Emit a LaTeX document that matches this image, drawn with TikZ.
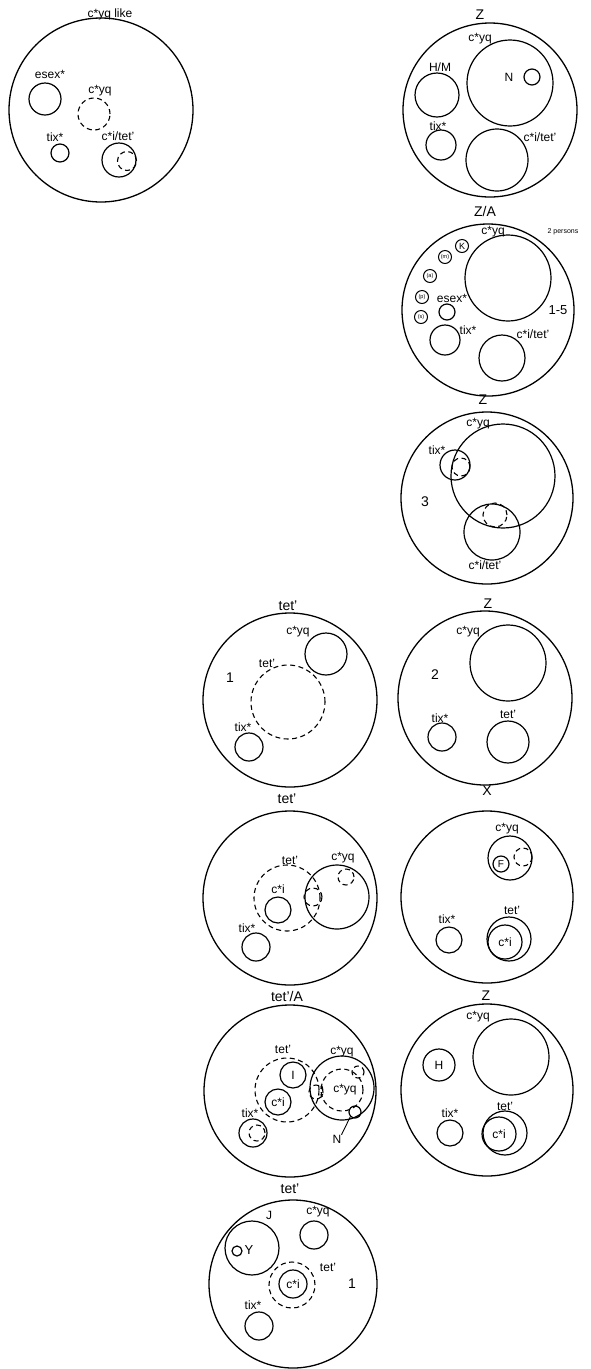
\documentclass[tikz,border=0pt]{standalone}
\usepackage{fontspec}
\setmainfont{Liberation Sans}
\begin{document}
\begin{tikzpicture}[x=1pt,y=-1pt,
  ring/.style={circle,draw,inner sep=0pt,line width=1.2pt,minimum size=#1},
  dring/.style={circle,draw,inner sep=0pt,line width=1.1pt,dash pattern=on 5pt off 3.5pt,minimum size=#1},
  big/.style={circle,draw,inner sep=0pt,line width=1.3pt,minimum size=#1},
  lab/.style={inner sep=0pt,font=\fontsize{12}{13}\selectfont},
  ttl/.style={inner sep=0pt,font=\fontsize{14}{15}\selectfont},
  tiny/.style={inner sep=0pt,font=\fontsize{7}{8}\selectfont},
  lc/.style={circle,draw,inner sep=0pt,line width=1pt,minimum size=13,font=\fontsize{5.5}{6}\selectfont}]
\useasboundingbox (0,0) rectangle (590,1369);
% ---------- D1 ----------
\node[lab] (t1) at (110,14) {c*yq like};
\node[big=184] (b1) at (101,110) {};
\node[ring=32] (b1e) at (45,99) {};
\node[lab] (l1e) at (50,74) {esex*};
\node[dring=32] (b1c) at (94,114) {};
\node[lab] (l1c) at (100,91) {c*yq};
\node[ring=18] (b1t) at (60,153) {};
\node[lab] (l1t) at (55,137) {tix*};
\node[ring=34] (b1i) at (119,160) {};
\node[dring=19] (b1id) at (127,161) {};
\node[lab] (l1i) at (118,136) {c*i/tet'};
% ---------- D2 ----------
\node[ttl] (t2) at (480,15) {Z};
\node[big=174] (b2) at (490,110) {};
\node[ring=86] (b2c) at (510,83) {};
\node[lab] (l2c) at (480,39) {c*yq};
\node[ring=16] (b2n) at (532,77) {};
\node[lab] (l2n) at (509,77) {N};
\node[ring=44] (b2h) at (437,95) {};
\node[lab] (l2h) at (440,67) {H/M};
\node[ring=30] (b2t) at (441,145) {};
\node[lab] (l2t) at (438,126) {tix*};
\node[ring=62] (b2i) at (497,160) {};
\node[lab] (l2i) at (540,137) {c*i/tet'};
% ---------- D3 ----------
\node[ttl] (t3) at (485,211) {Z/A};
\node[big=172] (b3) at (488,310) {};
\node[ring=86] (b3c) at (508,278) {};
\node[lab] (l3c) at (493,232) {c*yq};
\node[tiny] (l3p) at (563,232) {2 persons};
\node[lc,font=\fontsize{9}{10}\selectfont] (k3) at (462,246) {K};
\node[lc] (m3) at (445,257) {(m)};
\node[lc] (a3) at (430,276) {(a)};
\node[lc] (p3) at (422,297) {(p)};
\node[lc] (s3) at (421,317) {(s)};
\node[lab] (l3e) at (452,298) {esex*};
\node[ring=16] (b3e) at (447,312) {};
\node[lab,font=\fontsize{13}{14}\selectfont] (l3n) at (558,310) {1-5};
\node[ring=30] (b3t) at (445,340) {};
\node[lab] (l3t) at (468,330) {tix*};
\node[ring=46] (b3i) at (502,358) {};
\node[lab] (l3i) at (533,334) {c*i/tet'};
% ---------- D4 ----------
\node[ttl] (t4) at (483,400) {Z};
\node[big=172] (b4) at (487,498) {};
\node[ring=104] (b4c) at (503,476) {};
\node[lab] (l4c) at (478,424) {c*yq};
\node[ring=30] (b4t) at (455,465) {};
\node[dring=18] (b4td) at (461,467) {};
\node[lab] (l4t) at (437,450) {tix*};
\node[lab,font=\fontsize{14}{15}\selectfont] (l4n) at (425,502) {3};
\node[ring=56] (b4i) at (492,532) {};
\node[dring=24] (b4id) at (495,515) {};
\node[lab] (l4i) at (485,565) {c*i/tet'};
% ---------- D5 ----------
\node[ttl] (t5) at (288,606) {tet'};
\node[big=174] (b5) at (290,700) {};
\node[ring=42] (b5c) at (326,654) {};
\node[lab] (l5c) at (298,632) {c*yq};
\node[dring=74] (b5d) at (288,702) {};
\node[lab] (l5d) at (267,663) {tet'};
\node[lab,font=\fontsize{14}{15}\selectfont] (l5n) at (230,678) {1};
\node[ring=28] (b5t) at (249,747) {};
\node[lab] (l5t) at (243,727) {tix*};
% ---------- D6 ----------
\node[ttl] (t6) at (488,604) {Z};
\node[big=174] (b6) at (485,698) {};
\node[ring=76] (b6c) at (508,663) {};
\node[lab] (l6c) at (468,632) {c*yq};
\node[lab,font=\fontsize{14}{15}\selectfont] (l6n) at (435,675) {2};
\node[ring=28] (b6t) at (442,737) {};
\node[lab] (l6t) at (440,718) {tix*};
\node[ring=42] (b6i) at (508,742) {};
\node[lab] (l6i) at (508,714) {tet'};
% ---------- D7 ----------
\node[ttl] (t7) at (287,799) {tet'};
\node[big=174] (b7) at (290,898) {};
\node[dring=66] (b7d) at (287,898) {};
\node[lab] (l7d) at (290,860) {tet'};
\node[ring=26] (b7i) at (278,910) {};
\node[lab] (l7i) at (278,889) {c*i};
\node[ring=64] (b7c) at (337,897) {};
\node[lab] (l7c) at (343,858) {c*yq};
\node[dring=16] (b7s) at (346,877) {};
\node[dring=18] (b7o) at (313,897) {};
\node[ring=28] (b7t) at (256,947) {};
\node[lab] (l7t) at (247,928) {tix*};
% ---------- D8 ----------
\node[ttl] (t8) at (487,791) {X};
\node[big=172] (b8) at (487,897) {};
\node[ring=44] (b8c) at (510,858) {};
\node[lab] (l8c) at (507,829) {c*yq};
\node[ring=16,font=\fontsize{10}{11}\selectfont] (b8f) at (501,864) {F};
\node[dring=18] (b8d) at (523,857) {};
\node[ring=26] (b8t) at (449,940) {};
\node[lab] (l8t) at (447,919) {tix*};
\node[ring=44] (b8o) at (509,939) {};
\node[ring=34] (b8i) at (505,942) {};
\node[lab] (l8i) at (505,942) {c*i};
\node[lab] (l8o) at (512,910) {tet'};
% ---------- D9 ----------
\node[ttl] (t9) at (287,996) {tet'/A};
\node[big=172] (b9) at (290,1091) {};
\node[dring=64] (b9d) at (287,1090) {};
\node[lab] (l9d) at (283,1049) {tet'};
\node[ring=26,font=\fontsize{12}{13}\selectfont] (b9I) at (293,1075) {I};
\node[ring=26] (b9i) at (278,1102) {};
\node[lab] (l9i) at (278,1102) {c*i};
\node[ring=64] (b9c) at (342,1088) {};
\node[lab] (l9c) at (342,1052) {c*yq};
\node[dring=42] (b9cd) at (342,1090) {};
\node[lab] (l9cd) at (345,1090) {c*yq};
\node[dring=12] (b9s) at (358,1072) {};
\node[dring=14] (b9o) at (316,1092) {};
\draw[-stealth,line width=0.8pt] (b9cd.170) -- (b9o.15);
\draw[-stealth,line width=0.8pt] (b9cd.195) -- (b9o.-15);
\node[ring=12] (b9n) at (355,1112) {};
\node[lab] (l9n) at (337,1139) {N};
\draw[line width=0.9pt] (l9n.north east) -- (b9n.225);
\node[ring=28] (b9t) at (253,1133) {};
\node[dring=16] (b9td) at (257,1133) {};
\node[lab] (l9t) at (250,1113) {tix*};
% ---------- D10 ----------
\node[ttl] (t10) at (486,996) {Z};
\node[big=172] (b10) at (487,1090) {};
\node[ring=76] (b10c) at (511,1057) {};
\node[lab] (l10c) at (478,1017) {c*yq};
\node[ring=32,font=\fontsize{12}{13}\selectfont] (b10h) at (439,1065) {H};
\node[ring=26] (b10t) at (450,1133) {};
\node[lab] (l10t) at (450,1113) {tix*};
\node[ring=44] (b10o) at (505,1133) {};
\node[ring=34] (b10i) at (499,1134) {};
\node[lab] (l10i) at (499,1134) {c*i};
\node[lab] (l10o) at (505,1106) {tet'};
% ---------- D11 ----------
\node[ttl] (t11) at (290,1189) {tet'};
\node[big=168] (b11) at (293,1284) {};
\node[ring=54] (b11j) at (252,1248) {};
\node[lab] (l11j) at (269,1215) {J};
\node[ring=10] (b11o) at (237,1251) {};
\node[lab,font=\fontsize{13}{14}\selectfont] (l11y) at (249,1250) {Y};
\node[ring=28] (b11c) at (314,1235) {};
\node[lab] (l11c) at (318,1212) {c*yq};
\node[dring=46] (b11d) at (292,1285) {};
\node[lab] (l11d) at (328,1267) {tet'};
\node[ring=28] (b11i) at (293,1284) {};
\node[lab] (l11i) at (293,1284) {c*i};
\node[lab,font=\fontsize{14}{15}\selectfont] (l11n) at (352,1284) {1};
\node[ring=28] (b11t) at (259,1326) {};
\node[lab] (l11t) at (253,1305) {tix*};
\end{tikzpicture}
\end{document}
